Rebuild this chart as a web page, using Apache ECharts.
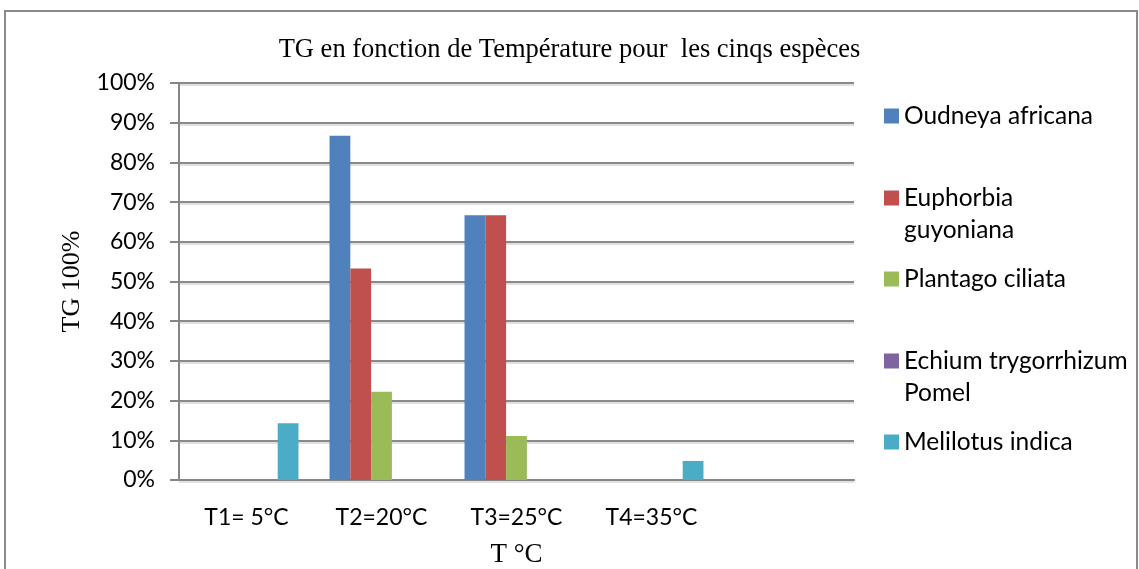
<!DOCTYPE html>
<html lang="fr">
<head>
    <meta charset="UTF-8">
    <title>TG en fonction de Température</title>
    <script src="https://cdn.jsdelivr.net/npm/echarts@6/dist/echarts.min.js"></script>
    <style>
        html, body { margin: 0; padding: 0; background: #fff; }
        #main { width: 1139px; height: 569px; }
    </style>
</head>
<body>
<div id="main"></div>
<script type="text/javascript">
    // categories (the last slot is empty in the original chart)
    var categories = ['T1= 5°C', 'T2=20°C', 'T3=25°C', 'T4=35°C', ''];
    var species = ['Oudneya africana', 'Euphorbia\nguyoniana', 'Plantago ciliata', 'Echium trygorrhizum\nPomel', 'Melilotus indica'];
    var colors = ['#4F81BD', '#C0504D', '#9BBB59', '#8064A2', '#4BACC6'];
    // TG values in %
    var oudneya = [0, 86.7, 66.7, 0, null];
    var euphorbia = [0, 53.3, 66.7, 0, null];
    var plantago = [0, 22.2, 11.1, 0, null];
    var echium = [0, 0, 0, 0, null];
    var melilotus = [14.3, 0, 0, 4.8, null];
    var yTicks = [0, 10, 20, 30, 40, 50, 60, 70, 80, 90, 100];

    var values = [oudneya, euphorbia, plantago, echium, melilotus];
    var legendIconY = [116, 198, 279, 361, 442];
    var lineH = 32;

    var chart = echarts.init(document.getElementById('main'));

    // one legend per species so each can sit at its own height
    var legends = species.map(function (name, i) {
        var twoLines = name.indexOf('\n') >= 0;
        return {
            orient: 'vertical',
            left: 884,
            top: twoLines ? legendIconY[i] - lineH * 1.5 : legendIconY[i] - lineH / 2,
            padding: 0,
            itemWidth: 15,
            itemHeight: 15,
            icon: 'rect',
            selectedMode: false,
            data: [name],
            // blank first line keeps the square next to the first line of text
            formatter: function (n) {
                return n.indexOf('\n') >= 0 ? '\n' + n : n;
            },
            textStyle: {
                fontFamily: 'Lato',
                fontSize: 24.5,
                color: '#000',
                lineHeight: lineH
            }
        };
    });

    var option = {
        backgroundColor: '#fff',
        animation: false,
        title: {
            text: 'TG en fonction de Température pour  les cinqs espèces',
            left: 'center',
            top: 32,
            textStyle: {
                fontFamily: 'Liberation Serif',
                fontWeight: 'normal',
                fontSize: 26.5,
                color: '#000'
            }
        },
        graphic: [{
            type: 'rect',
            shape: {x: 5, y: 11, width: 1132, height: 600},
            style: {fill: 'none', stroke: '#8a8a8a', lineWidth: 2},
            silent: true
        }],
        legend: legends,
        grid: {
            left: 179,
            right: 285,
            top: 83,
            bottom: 89,
            outerBoundsMode: 'none'
        },
        xAxis: {
            type: 'category',
            data: categories,
            name: 'T °C',
            nameLocation: 'middle',
            nameGap: 61,
            nameTextStyle: {
                fontFamily: 'Liberation Serif',
                fontSize: 27,
                color: '#000'
            },
            axisLine: {lineStyle: {color: '#868686', width: 2}},
            axisTick: {show: false},
            axisLabel: {
                fontFamily: 'Lato',
                fontSize: 23,
                color: '#000',
                margin: 26
            }
        },
        yAxis: {
            type: 'value',
            min: yTicks[0],
            max: yTicks[yTicks.length - 1],
            interval: 10,
            name: 'TG 100%',
            nameLocation: 'middle',
            nameGap: 88,
            nameTextStyle: {
                fontFamily: 'Liberation Serif',
                fontSize: 26,
                color: '#000'
            },
            axisLine: {show: true, lineStyle: {color: '#868686', width: 2}},
            axisTick: {show: true, length: 9, lineStyle: {color: '#868686', width: 2}},
            axisLabel: {
                formatter: '{value}%',
                fontFamily: 'Lato',
                fontSize: 23,
                color: '#000',
                margin: 24
            },
            splitLine: {
                lineStyle: {
                    color: '#8a8a8a',
                    width: 2,
                    shadowColor: 'rgba(0,0,0,0.12)',
                    shadowOffsetY: 2,
                    shadowBlur: 0
                }
            }
        },
        series: species.map(function (name, i) {
            return {
                name: name,
                type: 'bar',
                data: values[i],
                barGap: '0%',
                barCategoryGap: '23%',
                itemStyle: {color: colors[i]}
            };
        })
    };

    chart.setOption(option);
</script>
</body>
</html>
